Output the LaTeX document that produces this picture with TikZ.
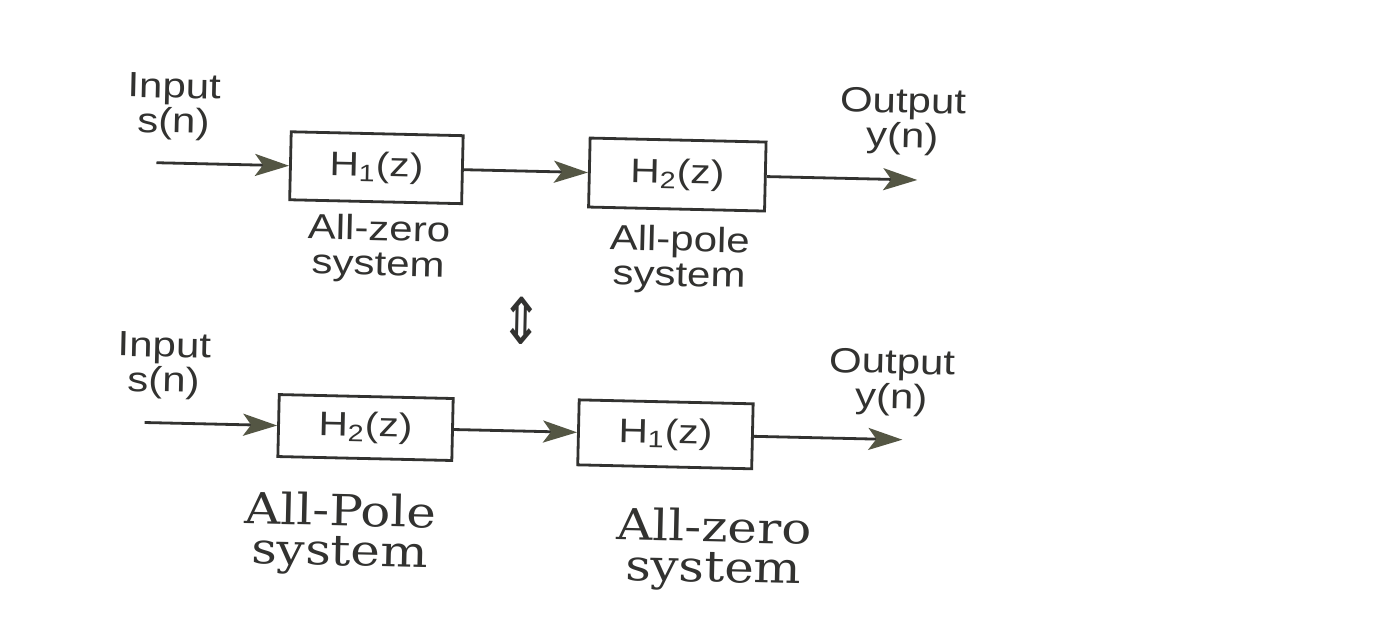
\documentclass[tikz,border=0pt]{standalone}
\usepackage{fontspec}
\usepackage{graphicx}
\newfontfamily\wsans[FakeStretch=1.2]{Liberation Sans}
\newfontfamily\wserif[FakeStretch=1.16]{DejaVu Serif}
\newfontfamily\symfont{DejaVu Sans}
\usetikzlibrary{arrows.meta}
\definecolor{ink}{RGB}{50,50,48}
\definecolor{headc}{RGB}{84,86,68}
\begin{document}
\begin{tikzpicture}[x=0.5pt,y=-0.5pt,
  sanslbl/.style={font=\wsans\fontsize{17.5}{17.5}\selectfont, text=ink, align=center, inner sep=0pt},
  seriflbl/.style={font=\wserif\fontsize{21.5}{20}\selectfont, text=ink, align=center, inner sep=0pt},
  blk/.style={draw=ink, line width=1.4pt, font=\wsans\fontsize{17}{17}\selectfont, text=ink, inner sep=0pt},
  flow/.style={draw=ink, line width=1.4pt, -{Stealth[length=17pt,width=11pt,inset=4pt,fill=headc,color=headc]}}
]
\useasboundingbox (0,0) rectangle (1377,618);
\fill[white] (0,0) rectangle (1377,618);

\begin{scope}[rotate around={-1.3:(520,320)}, transform shape]
% ---- top row ----
\node[sanslbl] (inA) at (169,115) {Input\\s(n)};
\node[sanslbl] (outA) at (898,113) {Output\\y(n)};
\node[blk, minimum width=86pt, minimum height=34pt] (h1a) at (373,171) {H\textsubscript{1}(z)};
\node[blk, minimum width=88pt, minimum height=34.5pt] (h2a) at (674,171) {H\textsubscript{2}(z)};
\coordinate (sA) at (153,171);
\coordinate (eA) at (914,171);
\draw[flow] (sA) -- (h1a.west);
\draw[flow] (h1a.east) -- (h2a.west);
\draw[flow] (h2a.east) -- (eA);
\node[sanslbl] (lzA) at (377,252) {All-zero\\system};
\node[sanslbl] (lpA) at (678,256) {All-pole\\system};

% ---- equivalence ----
\node[text=ink, inner sep=0pt, font=\symfont\fontsize{32}{32}\selectfont] (eq) at (521,321) {\scalebox{0.8}[1]{⇕}};

% ---- bottom row ----
\node[sanslbl] (inB) at (165,374) {Input\\s(n)};
\node[sanslbl] (outB) at (893,374) {Output\\y(n)};
\node[blk, minimum width=87pt, minimum height=31pt] (h2b) at (368,431) {H\textsubscript{2}(z)};
\node[blk, minimum width=87pt, minimum height=32.5pt] (h1b) at (668,431) {H\textsubscript{1}(z)};
\coordinate (sB) at (147,431);
\coordinate (eB) at (905,431);
\draw[flow] (sB) -- (h2b.west);
\draw[flow] (h2b.east) -- (h1b.west);
\draw[flow] (h1b.east) -- (eB);
\node[seriflbl] (lpB) at (345,538) {All-Pole\\system};
\node[seriflbl] (lzB) at (719,546) {All-zero\\system};
\end{scope}
\end{tikzpicture}
\end{document}
